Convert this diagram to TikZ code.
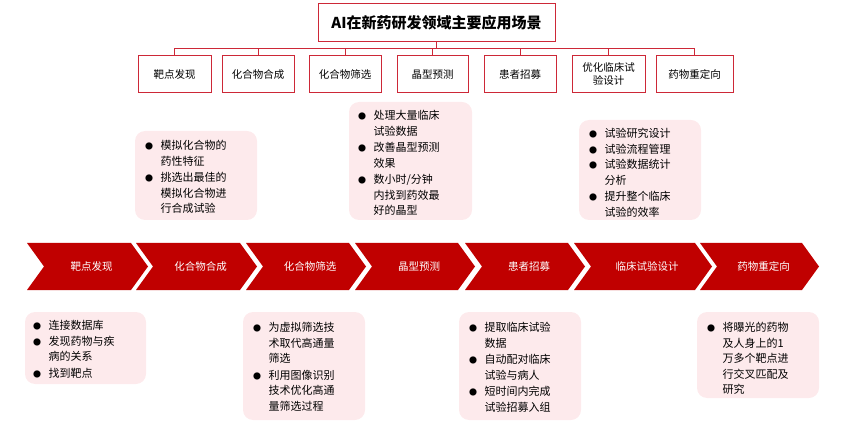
\documentclass[tikz,border=0pt]{standalone}
\usepackage{fontspec}
\setmainfont{Noto Sans CJK SC}
\definecolor{lr}{RGB}{205,40,55}
\definecolor{dr}{RGB}{192,0,0}
\definecolor{pk}{RGB}{253,234,236}
\newcommand{\itm}[1]{\par\noindent\makebox[1.4em][l]{\fontsize{8}{8}\selectfont●}\parbox[t]{85pt}{\fontsize{11}{15.5}\selectfont\raggedright\strut #1\strut}\par}
\begin{document}
\begin{tikzpicture}[x=1pt,y=-1pt,
  cat/.style={draw=lr,line width=1pt,fill=white,minimum height=37pt,inner sep=1pt,font=\fontsize{10.5}{13}\selectfont,align=center},
  info/.style={anchor=north west,align=left,inner sep=0pt,font=\fontsize{11}{15.5}\selectfont},
  chev/.style={fill=dr},
  lbl/.style={text=white,font=\fontsize{10.5}{13}\selectfont}]
\useasboundingbox (0,0) rectangle (866,427);
\node[draw=lr,line width=1pt,minimum width=237pt,minimum height=38pt,font=\bfseries\fontsize{15}{18}\selectfont] (t) at (436.5,23) {AI在新药研发领域主要应用场景};
\coordinate (bus) at (436.5,48);
\foreach \n/\a/\b/\txt in {c1/138/211/靶点发现,c2/222/294/化合物合成,c3/309/381/化合物筛选,c4/397/468/晶型预测,c5/484/556/患者招募,c6/572/645/{优化临床试\\验设计},c7/656/733/药物重定向}{
  \node[cat,minimum width={\b-\a}] (\n) at ({(\a+\b)/2},74.5) {\txt};
  \draw[lr,line width=0.8pt] (\n.north) -- (\n.north |- bus);
}
\draw[lr,line width=0.8pt] (t.south) -- (bus);
\draw[lr,line width=0.8pt] (c1.north |- bus) -- (c7.north |- bus);
% upper info boxes
\fill[pk,rounded corners=10pt] (135,131) rectangle (257,220);
\node[info,text width=105pt] (u1) at (145,134) {\itm{模拟化合物的\newline 药性特征}\itm{挑选出最佳的\newline 模拟化合物进\newline 行合成试验}};
\fill[pk,rounded corners=10pt] (349,102) rectangle (472,220);
\node[info,text width=105pt] (u2) at (358,104) {\itm{处理大量临床\newline 试验数据}\itm{改善晶型预测\newline 效果}\itm{数小时/分钟\newline 内找到药效最\newline 好的晶型}};
\fill[pk,rounded corners=10pt] (579,120) rectangle (701,220);
\node[info,text width=105pt] (u3) at (589,122) {\itm{试验研究设计}\itm{试验流程管理}\itm{试验数据统计\newline 分析}\itm{提升整个临床\newline 试验的效率}};
% chevrons
\foreach \n/\a/\b/\txt in {a1/27/148/靶点发现,a2/136/257/化合物合成,a3/246/366/化合物筛选,a4/355/475/晶型预测,a5/465/585/患者招募,a6/574/712/临床试验设计,a7/700/819/药物重定向}{
  \fill[chev] (\a,243) -- ({\b-17},243) -- (\b,266.5) -- ({\b-17},290) -- (\a,290) -- ({\a+17},266.5) -- cycle;
  \node[lbl] (\n) at ({(\a+\b)/2+4},266.5) {\txt};
}
% lower info boxes
\fill[pk,rounded corners=10pt] (25,312) rectangle (146,384);
\node[info,text width=105pt] (l1) at (33,314) {\itm{连接数据库}\itm{发现药物与疾\newline 病的关系}\itm{找到靶点}};
\fill[pk,rounded corners=10pt] (243,312) rectangle (365,420);
\node[info,text width=105pt] (l2) at (253,316) {\itm{为虚拟筛选技\newline 术取代高通量\newline 筛选}\itm{利用图像识别\newline 技术优化高通\newline 量筛选过程}};
\fill[pk,rounded corners=10pt] (459,312) rectangle (581,420);
\node[info,text width=105pt] (l3) at (469,316) {\itm{提取临床试验\newline 数据}\itm{自动配对临床\newline 试验与病人}\itm{短时间内完成\newline 试验招募入组}};
\fill[pk,rounded corners=10pt] (697,312) rectangle (819,398);
\node[info,text width=105pt] (l4) at (707,316) {\itm{将曝光的药物\newline 及人身上的1\newline 万多个靶点进\newline 行交叉匹配及\newline 研究}};
\end{tikzpicture}
\end{document}
